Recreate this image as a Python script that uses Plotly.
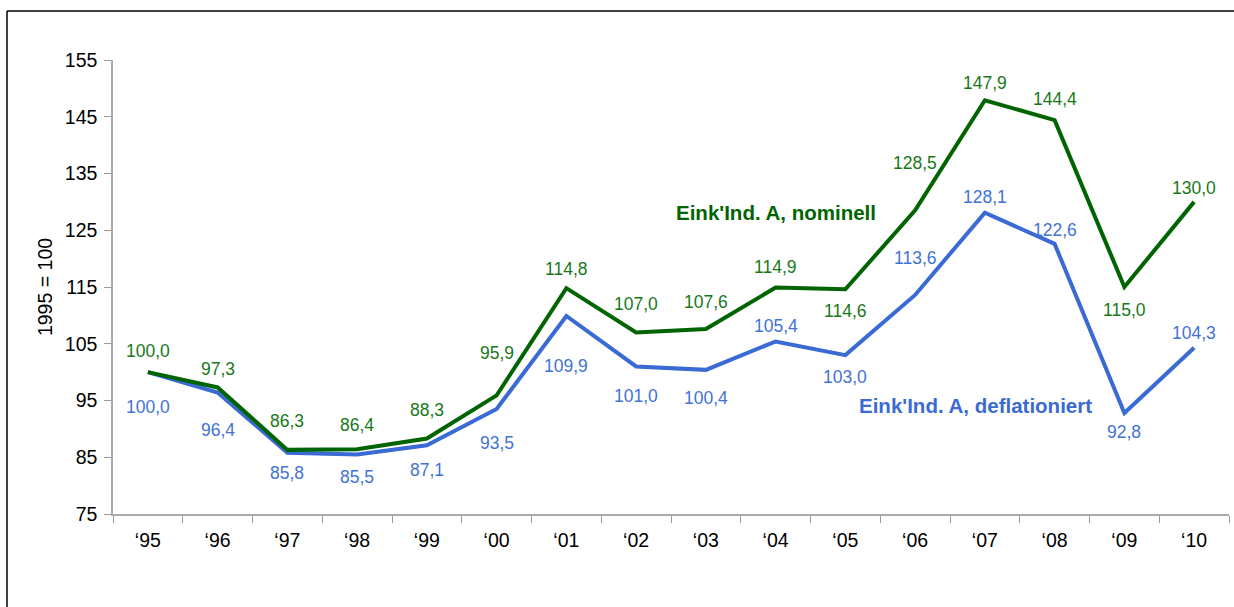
import plotly.graph_objects as go

years = ["\u201895", "\u201896", "\u201897", "\u201898", "\u201899", "\u201800", "\u201801", "\u201802",
         "\u201803", "\u201804", "\u201805", "\u201806", "\u201807", "\u201808", "\u201809", "\u201810"]
nominell = [100.0, 97.3, 86.3, 86.4, 88.3, 95.9, 114.8, 107.0, 107.6, 114.9, 114.6, 128.5, 147.9, 144.4, 115.0, 130.0]
deflationiert = [100.0, 96.4, 85.8, 85.5, 87.1, 93.5, 109.9, 101.0, 100.4, 105.4, 103.0, 113.6, 128.1, 122.6, 92.8, 104.3]
y_ticks = [75, 85, 95, 105, 115, 125, 135, 145, 155]

# label offsets in pixels (positive = upwards), style only
nom_shift = [21, 18, 29, 24, 29, 42, 19, 28, 27, 21, -22, 47, 17, 21, -23, 14]
def_shift = [-35, -37, -20, -23, -25, -34, -50, -30, -28, 15, -22, 37, 16, 14, -19, 15]

GREEN_LINE = "#006400"
GREEN_TEXT = "#187818"
BLUE_LINE = "#3A6AD4"
BLUE_TEXT = "#4272D6"
FONT = "Liberation Sans, Arial, sans-serif"

W, H = 1234, 607
L, R, T, B = 113, 5, 60, 93

fig = go.Figure()
fig.add_trace(go.Scatter(x=years, y=deflationiert, mode="lines",
                         line=dict(color=BLUE_LINE, width=4), hoverinfo="x+y", showlegend=False))
fig.add_trace(go.Scatter(x=years, y=nominell, mode="lines",
                         line=dict(color=GREEN_LINE, width=4), hoverinfo="x+y", showlegend=False))

def fmt(v):
    return f"{v:.1f}".replace(".", ",")

ann = []
for x, v, s in zip(years, nominell, nom_shift):
    ann.append(dict(x=x, y=v, text=fmt(v), showarrow=False, yshift=s,
                    xanchor="center", yanchor="middle",
                    font=dict(size=17.5, color=GREEN_TEXT, family=FONT)))
for x, v, s in zip(years, deflationiert, def_shift):
    ann.append(dict(x=x, y=v, text=fmt(v), showarrow=False, yshift=s,
                    xanchor="center", yanchor="middle",
                    font=dict(size=17.5, color=BLUE_TEXT, family=FONT)))

pw = W - L - R
ph = H - T - B
def px_x(p):
    return (p - L) / pw
def px_y(p):
    return (H - B - p) / ph

ann.append(dict(xref="paper", yref="paper", x=px_x(776), y=px_y(212),
                xanchor="center", yanchor="middle",
                text="<b>Eink'Ind. A, nominell</b>", showarrow=False,
                font=dict(size=20.5, color=GREEN_LINE, family=FONT)))
ann.append(dict(xref="paper", yref="paper", x=px_x(975), y=px_y(405),
                xanchor="center", yanchor="middle",
                text="<b>Eink'Ind. A, deflationiert</b>", showarrow=False,
                font=dict(size=20.5, color=BLUE_LINE, family=FONT)))

shapes = [
    dict(type="line", xref="paper", yref="paper", x0=px_x(7), x1=px_x(1260),
         y0=px_y(11), y1=px_y(11), line=dict(color="black", width=1.5)),
    dict(type="line", xref="paper", yref="paper", x0=px_x(7), x1=px_x(7),
         y0=px_y(11), y1=px_y(640), line=dict(color="black", width=1.5)),
]

fig.update_layout(
    width=W, height=H,
    margin=dict(l=L, r=R, t=T, b=B),
    paper_bgcolor="white", plot_bgcolor="white",
    font=dict(family=FONT, size=19, color="black"),
    annotations=ann, shapes=shapes,
    xaxis=dict(type="category", range=[-0.5, len(years) - 0.5], tickson="boundaries",
               ticks="outside", ticklen=7,
               tickcolor="#999999", showline=True, linecolor="#aaaaaa", linewidth=1.5,
               showgrid=False, zeroline=False, tickfont=dict(size=19.5),
               ticklabelstandoff=8, automargin=False),
    yaxis=dict(range=[75, 155], tickvals=y_ticks, ticks="outside", ticklen=7,
               tickcolor="#999999", showline=True, linecolor="#aaaaaa", linewidth=1.5,
               showgrid=False, zeroline=False, tickfont=dict(size=19.5),
               title=dict(text="1995 = 100", font=dict(size=19.5), standoff=7),
               ticklabelstandoff=3, automargin=False),
)

fig.write_html("out.html", config={"displayModeBar": False},
               post_script="document.body.style.margin='0';document.body.style.overflow='hidden';")
